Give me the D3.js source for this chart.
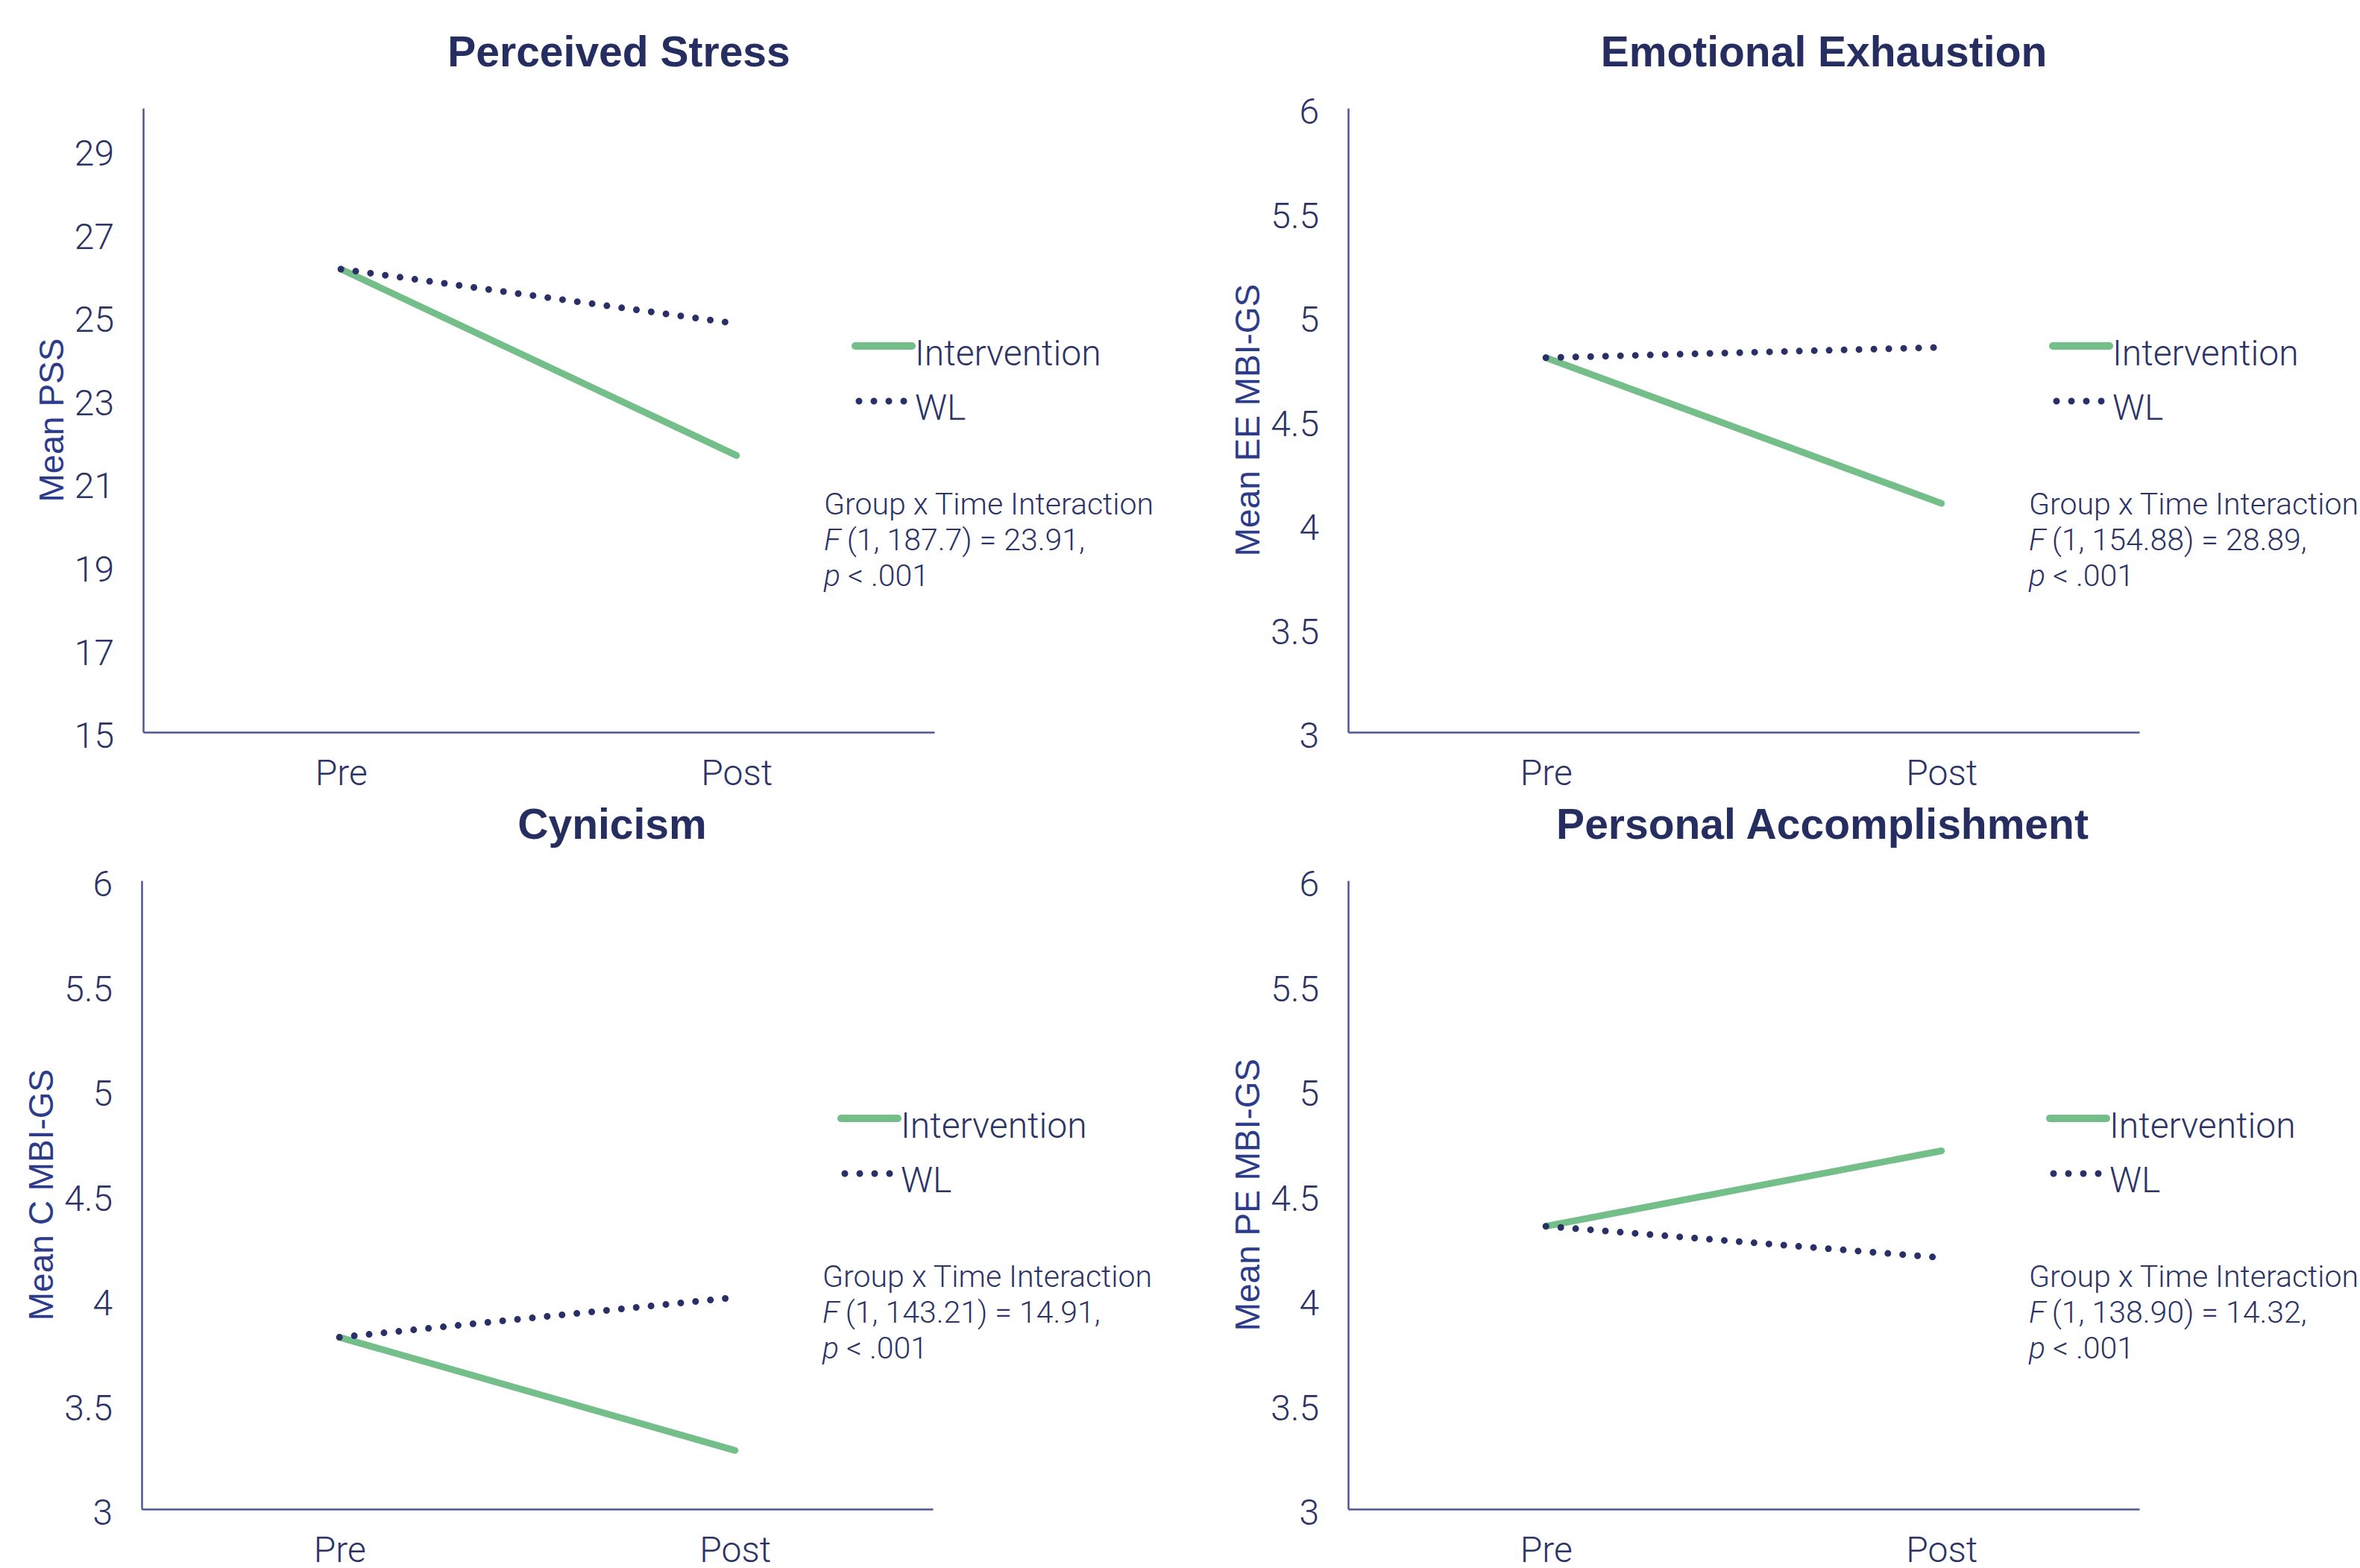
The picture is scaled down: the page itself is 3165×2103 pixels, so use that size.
<!DOCTYPE html>
<html lang="en">
<head>
<meta charset="UTF-8">
<title>Group x Time Interaction Plots</title>
<style>
    body { margin: 0; background: #ffffff; }
    svg { display: block; }
    .light { font-family: Roboto, "Liberation Sans", sans-serif; font-weight: 300; fill: #2b3367; }
</style>
</head>
<body>
<svg width="3165" height="2103"></svg>

<script src="https://cdnjs.cloudflare.com/ajax/libs/d3/7.8.5/d3.min.js"></script>
<script>

// ---- data ----
var times = ["Pre", "Post"];
var groups = ["Intervention", "WL"];

var chartTitles = ["Perceived Stress", "Emotional Exhaustion", "Cynicism", "Personal Accomplishment"];
var yTitles = ["Mean PSS", "Mean EE MBI-GS", "Mean C MBI-GS", "Mean PE MBI-GS"];

var pssIntervention = [26.13, 21.65];
var pssWL = [26.13, 24.82];
var eeIntervention = [4.80, 4.10];
var eeWL = [4.80, 4.85];
var cIntervention = [3.82, 3.28];
var cWL = [3.82, 4.01];
var peIntervention = [4.35, 4.71];
var peWL = [4.35, 4.20];

var pssTicks = [15, 17, 19, 21, 23, 25, 27, 29];
var mbiTicks = [3, 3.5, 4, 4.5, 5, 5.5, 6];
var pssDomain = [15, 30];
var mbiDomain = [3, 6];

var statDf = ["(1, 187.7) = 23.91,", "(1, 154.88) = 28.89,", "(1, 143.21) = 14.91,", "(1, 138.90) = 14.32,"];
var statP = " < .001";

// ---- layout ----
var svg = d3.select("svg");
var plotW = 1061;
var panelLayout = [
    {x: 192, top: 145, h: 837, legendDx: 955, titleDx: 638},
    {x: 1808, top: 145, h: 837, legendDx: 945, titleDx: 638},
    {x: 190, top: 1181, h: 843, legendDx: 938, titleDx: 631},
    {x: 1808, top: 1181, h: 843, legendDx: 941, titleDx: 636}
];

var green = "#74be8a";
var navy = "#283067";
var axisColor = "#4d5593";

var panels = [
    {inter: pssIntervention, wl: pssWL, ticks: pssTicks, domain: pssDomain},
    {inter: eeIntervention, wl: eeWL, ticks: mbiTicks, domain: mbiDomain},
    {inter: cIntervention, wl: cWL, ticks: mbiTicks, domain: mbiDomain},
    {inter: peIntervention, wl: peWL, ticks: mbiTicks, domain: mbiDomain}
];

panels.forEach(function(p, i) {
    var lay = panelLayout[i];
    var g = svg.append("g").attr("transform", "translate(" + lay.x + "," + lay.top + ")");

    var x = d3.scalePoint().domain(times).range([0, plotW]).padding(0.5);
    var y = d3.scaleLinear().domain(p.domain).range([lay.h, 0]);

    // title
    g.append("text")
        .attr("x", lay.titleDx)
        .attr("y", -56)
        .attr("text-anchor", "middle")
        .style("font-family", "'Liberation Sans', Arial, sans-serif")
        .style("font-weight", "bold")
        .style("font-size", "57px")
        .style("fill", "#262d60")
        .text(chartTitles[i]);

    // axes
    var yAxis = d3.axisLeft(y)
        .tickValues(p.ticks)
        .tickFormat(d3.format("~g"))
        .tickSize(0)
        .tickPadding(39);

    var yG = g.append("g").attr("class", "y axis").call(yAxis);

    var xAxis = d3.axisBottom(x)
        .tickSize(0)
        .tickPadding(37);

    var xG = g.append("g")
        .attr("class", "x axis")
        .attr("transform", "translate(0," + lay.h + ")")
        .call(xAxis);

    [yG, xG].forEach(function(a) {
        a.attr("font-family", null).attr("font-size", null);
        a.select(".domain").attr("stroke", axisColor).attr("stroke-width", 2.5);
        a.selectAll("text").attr("class", "light").style("font-size", "48px");
    });
    yG.selectAll("text").attr("dy", "0.43em");

    // y axis title sits left of the widest tick label
    var labelLeft = yG.node().getBBox().x;
    g.append("text")
        .attr("transform", "translate(" + (labelLeft - 15) + "," + (lay.h / 2) + ") rotate(-90)")
        .attr("text-anchor", "middle")
        .style("font-family", "'Liberation Sans', Arial, sans-serif")
        .style("font-size", "46px")
        .style("fill", "#2d3b8b")
        .text(yTitles[i]);

    // series
    var line = d3.line()
        .x(function(d, j) { return x(times[j]); })
        .y(function(d) { return y(d); });

    g.append("path")
        .datum(p.inter)
        .attr("d", line)
        .attr("fill", "none")
        .attr("stroke", green)
        .attr("stroke-width", 9)
        .attr("stroke-linecap", "round");

    g.append("path")
        .datum(p.wl)
        .attr("d", line)
        .attr("fill", "none")
        .attr("stroke", navy)
        .attr("stroke-width", 9)
        .attr("stroke-linecap", "round")
        .attr("stroke-dasharray", "0 20");

    // legend
    var leg = g.append("g").attr("transform", "translate(" + lay.legendDx + ",319)");
    leg.append("line")
        .attr("x1", 0).attr("x2", 76).attr("y1", 0).attr("y2", 0)
        .attr("stroke", green).attr("stroke-width", 10).attr("stroke-linecap", "round");
    leg.append("text")
        .attr("class", "light")
        .attr("x", 80).attr("y", 26)
        .style("font-size", "48px")
        .text(groups[0]);
    leg.append("line")
        .attr("x1", 5).attr("x2", 67).attr("y1", 74).attr("y2", 74)
        .attr("stroke", navy).attr("stroke-width", 9).attr("stroke-linecap", "round")
        .attr("stroke-dasharray", "0 20");
    leg.append("text")
        .attr("class", "light")
        .attr("x", 80).attr("y", 99)
        .style("font-size", "48px")
        .text(groups[1]);

    // interaction statistic
    var stat = g.append("text")
        .attr("class", "light")
        .attr("x", 913)
        .attr("y", 545)
        .style("font-size", "41px");
    stat.append("tspan").text("Group x Time Interaction");
    var l2 = stat.append("tspan").attr("x", 913).attr("dy", 48);
    l2.append("tspan").style("font-style", "italic").text("F");
    l2.append("tspan").text("\u2009" + statDf[i]);
    var l3 = stat.append("tspan").attr("x", 913).attr("dy", 48);
    l3.append("tspan").style("font-style", "italic").text("p");
    l3.append("tspan").text(statP);
});

</script>
</body>
</html>
